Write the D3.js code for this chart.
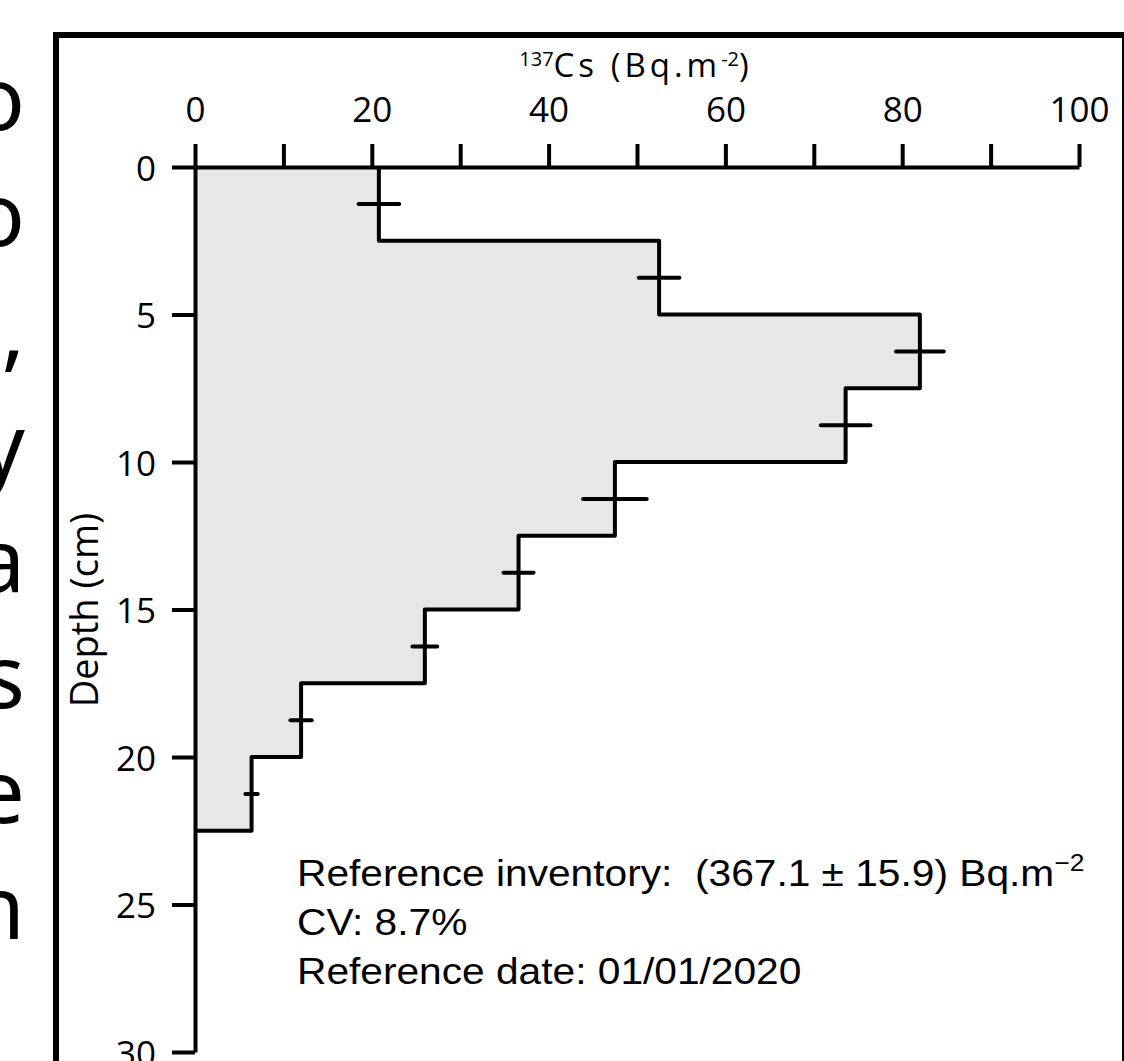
<!DOCTYPE html>
<head>
  <meta charset="utf-8" />
  <script src="https://cdn.jsdelivr.net/npm/d3@7"></script>
  <style>
    body {
      margin: 0;
      background-color: #fff;
      overflow: hidden;
    }
    .axis text {
      font-family: "Open Sans", "Noto Sans", sans-serif;
      font-size: 35px;
      fill: #000;
    }
    .axis path,
    .axis line {
      stroke: #000;
      stroke-width: 4px;
    }
    .note {
      font-family: "Liberation Sans", Arial, sans-serif;
      font-size: 37px;
      fill: #000;
    }
  </style>
</head>

<body>
  <script>
    // depth intervals (cm), 137Cs per layer and its uncertainty
    var depthTop = [0, 2.5, 5, 7.5, 10, 12.5, 15, 17.5, 20];
    var depthBottom = [2.5, 5, 7.5, 10, 12.5, 15, 17.5, 20, 22.5];
    var activity = [20.8, 52.5, 82.0, 73.6, 47.5, 36.6, 26.0, 12.0, 6.4];
    var uncert = [2.3, 2.3, 2.7, 2.8, 3.6, 1.7, 1.4, 1.2, 0.7];

    var xTicks = [0, 10, 20, 30, 40, 50, 60, 70, 80, 90, 100];
    var yTicks = [0, 5, 10, 15, 20, 25, 30];

    var noteLines = [
      "Reference inventory:\u00a0\u00a0(367.1 \u00b1 15.9) Bq.m",
      "CV: 8.7%",
      "Reference date: 01/01/2020"
    ];
    // tail of a text column cut off by the left edge
    var cutChars = ["o", "o", ",", "y", "a", "s", "e", "n"];

    var width = 1124,
      height = 1061;
    var margin = { top: 167, left: 195 };

    var svg = d3
      .select("body")
      .append("svg")
      .attr("width", width)
      .attr("height", height);

    svg
      .append("g")
      .selectAll("text")
      .data(cutChars)
      .enter()
      .append("text")
      .attr("x", 25)
      .attr("y", (d, i) => 130 + i * 115.5)
      .attr("text-anchor", "end")
      .style("font-family", "'Noto Sans', sans-serif")
      .style("font-size", "88px")
      .text(d => d);

    // frame
    svg
      .append("rect")
      .attr("x", 56)
      .attr("y", 35)
      .attr("width", 1069)
      .attr("height", 1100)
      .attr("fill", "none")
      .attr("stroke", "#000")
      .attr("stroke-width", 6);

    var x = d3.scaleLinear().domain([0, 100]).range([margin.left, 1079]);
    var y = d3.scaleLinear().domain([0, 30]).range([margin.top, 1052]);

    // filled step profile
    var pts = [[0, 0]];
    activity.forEach((v, i) => {
      pts.push([v, depthTop[i]]);
      pts.push([v, depthBottom[i]]);
    });
    pts.push([0, depthBottom[depthBottom.length - 1]]);

    var line = d3
      .line()
      .x(d => x(d[0]))
      .y(d => y(d[1]));

    svg
      .append("path")
      .attr("d", line(pts) + "Z")
      .attr("fill", "#e7e7e7")
      .attr("stroke", "none");

    svg
      .append("path")
      .attr("d", line(pts.slice(1)))
      .attr("fill", "none")
      .attr("stroke", "#000")
      .attr("stroke-width", 4)
      .attr("stroke-linejoin", "round");

    // error bars
    svg
      .append("g")
      .selectAll("line")
      .data(activity)
      .enter()
      .append("line")
      .attr("x1", (d, i) => x(d - uncert[i]))
      .attr("x2", (d, i) => x(d + uncert[i]))
      .attr("y1", (d, i) => y((depthTop[i] + depthBottom[i]) / 2))
      .attr("y2", (d, i) => y((depthTop[i] + depthBottom[i]) / 2))
      .attr("stroke", "#000")
      .attr("stroke-width", 4)
      .attr("stroke-linecap", "round");

    // axes
    svg
      .append("g")
      .attr("class", "axis")
      .attr("transform", "translate(0," + margin.top + ")")
      .call(
        d3
          .axisTop(x)
          .tickValues(xTicks)
          .tickSize(23)
          .tickSizeOuter(0)
          .tickPadding(22)
          .tickFormat(d => (d % 20 === 0 ? d : ""))
      );

    var yAxis = svg
      .append("g")
      .attr("class", "axis")
      .attr("transform", "translate(" + margin.left + ",0)")
      .call(
        d3
          .axisLeft(y)
          .tickValues(yTicks)
          .tickSize(23)
          .tickSizeOuter(0)
          .tickPadding(16)
      );
    yAxis.selectAll("text").attr("dy", "0.38em");

    // axis titles
    var title = svg
      .append("text")
      .attr("x", 636)
      .attr("y", 77)
      .attr("text-anchor", "middle")
      .style("font-family", "'Open Sans', 'Noto Sans', sans-serif")
      .style("font-size", "33px")
      .style("letter-spacing", "4px");
    title
      .append("tspan")
      .attr("dy", "-11")
      .style("font-size", "20px")
      .style("letter-spacing", "0px")
      .text("137");
    title.append("tspan").attr("dy", "11").text("Cs (Bq.m");
    title
      .append("tspan")
      .attr("dy", "-11")
      .style("font-size", "20px")
      .style("letter-spacing", "0px")
      .text("-2");
    title.append("tspan").attr("dy", "11").text(")");

    svg
      .append("text")
      .attr("transform", "translate(98,610) rotate(-90)")
      .attr("text-anchor", "middle")
      .style("font-family", "'Open Sans', 'Noto Sans', sans-serif")
      .style("font-size", "38px")
      .text("Depth (cm)");

    // annotation, slightly stretched horizontally like the original
    var note = svg
      .append("g")
      .attr("class", "note")
      .attr("transform", "translate(297,886) scale(1.1,1)");
    noteLines.forEach((t, i) => {
      var tx = note
        .append("text")
        .attr("x", 0)
        .attr("y", i * 49)
        .text(t);
      if (i === 0) {
        tx.append("tspan")
          .attr("dy", "-15")
          .style("font-size", "24px")
          .text("\u22122");
      }
    });
  </script>
</body>
